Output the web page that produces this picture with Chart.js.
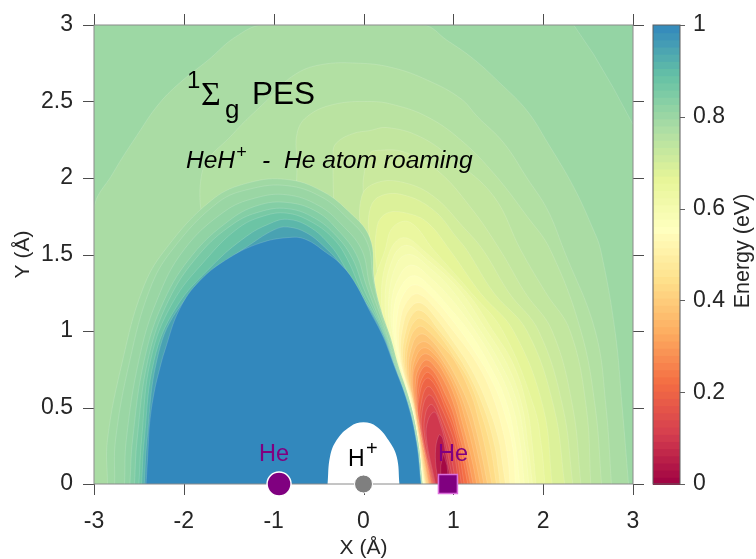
<!DOCTYPE html>
<html>
<head>
<meta charset="utf-8">
<style>
  html, body { margin: 0; padding: 0; background: #fff; }
  canvas { position: absolute; top: 0; }
</style>
<script src="https://cdn.jsdelivr.net/npm/chart.js@4"></script>
</head>
<body>
<canvas id="pes" width="650" height="559" style="left:0"></canvas>
<canvas id="bar" width="106" height="559" style="left:650px"></canvas>
<script>
const xTicks = [-3, -2, -1, 0, 1, 2, 3];
const yTicks = [0, 0.5, 1, 1.5, 2, 2.5, 3];
const barTicks = [0, 0.2, 0.4, 0.6, 0.8, 1];

// Spectral map
const mapStops = ['#9e0142', '#d53e4f', '#f46d43', '#fdae61', '#fee08b', '#ffffbf', '#e6f598', '#abdda4', '#66c2a5', '#3288bd'];
const barSteps = 64;

// energy contours, [X, Y] in angstrom
const plotBox = [[-3, 0], [-3, 3], [3, 3], [3, 0]];
const corner815 = [[2.34, 3], [2.56, 2.81], [2.78, 2.59], [3, 2.35], [3, 3]];
const c78 = [[-3, 0], [-3, 1.79], [-2.79, 2.03], [-2.52, 2.28], [-2.27, 2.49], [-2.01, 2.64], [-1.73, 2.77], [-1.43, 2.92], [-1.12, 3], [.66, 3], [.93, 2.9], [1.22, 2.78], [1.52, 2.62], [1.82, 2.44], [2.05, 2.23], [2.34, 1.94], [2.56, 1.66], [2.64, 1.53], [2.8, 1], [2.88, .5], [2.95, 0]];
const c76 = [[-1, 0], [-1.7, 1.5], [-1.8, 2.03], [-1.45, 2.29], [-1.07, 2.51], [-.78, 2.67], [-.48, 2.74], [-.04, 2.75], [.33, 2.72], [.71, 2.64], [1.08, 2.52], [1.27, 2.4], [1.56, 2.23], [1.82, 2], [2.05, 1.79], [2.23, 1.53], [2.58, 1], [2.7, .5], [2.76, 0]];
const c74 = [[-.3, 0], [-.74, 1.6], [-.74, 2.1], [-.74, 2.29], [-.63, 2.4], [-.34, 2.48], [.07, 2.5], [.33, 2.48], [.71, 2.4], [1.08, 2.25], [1.45, 2.03], [1.82, 1.75], [2.08, 1.53], [2.42, 1], [2.58, .5], [2.65, 0]];
const c72 = [[0, 0], [-.3, 1.6], [-.34, 2.16], [-.3, 2.23], [-.12, 2.29], [.07, 2.31], [.26, 2.33], [.63, 2.27], [1, 2.12], [1.45, 1.88], [1.75, 1.53], [2.03, 1.25], [2.3, 1], [2.48, .5], [2.53, 0]];
const c70 = [[.2, 0], [0, 1.6], [0, 1.87], [0, 2], [.07, 2.16], [.15, 2.18], [.45, 2.17], [.82, 2.05], [1.19, 1.81], [1.52, 1.53], [1.8, 1.25], [2.1, 1], [2.33, .5], [2.42, 0]];
const c68 = [[.3, 0], [-.02, 1.6], [-.02, 1.88], [.15, 1.97], [.45, 1.97], [.78, 1.88], [1.11, 1.68], [1.33, 1.53], [1.62, 1.25], [1.95, 1], [2.22, .5], [2.33, 0]];
const c66 = [[.4, 0], [.07, 1.6], [.07, 1.79], [.18, 1.88], [.44, 1.89], [.78, 1.79], [1.04, 1.61], [1.15, 1.53], [1.45, 1.25], [1.82, 1], [2.12, .5], [2.24, 0]];
const c64 = [[.5, 0], [.15, 1.4], [.15, 1.68], [.26, 1.77], [.48, 1.77], [.71, 1.71], [.96, 1.53], [1.3, 1.25], [1.67, 1], [2, .5], [2.1, 0]];
const c62 = [[.6, 0], [.45, .5], [.18, 1], [.1, 1.25], [.24, 1.53], [.33, 1.68], [.52, 1.71], [.78, 1.53], [1.2, 1.25], [1.55, 1], [1.9, .5], [1.98, .25], [2.02, 0]];
const c60 = [[.66, 0], [.52, .5], [.3, .9], [.2, 1.2], [.28, 1.5], [.44, 1.61], [.68, 1.52], [1.15, 1.25], [1.42, 1.02], [1.67, .78], [1.82, .5], [1.88, .25], [1.92, 0]];
const c58 = [[.665, 0], [.525, .5], [.32, .9], [.24, 1.2], [.33, 1.48], [.48, 1.56], [.7, 1.47], [1.05, 1.28], [1.34, 1.03], [1.6, .78], [1.76, .52], [1.83, .25], [1.88, 0]];
const c57 = [[.67, 0], [.53, .5], [.33, .9], [.28, 1.2], [.38, 1.45], [.52, 1.5], [.72, 1.42], [.98, 1.27], [1.28, 1.02], [1.53, .78], [1.7, .55], [1.79, .28], [1.84, 0]];
const c55 = [[.67, 0], [.535, .5], [.35, .9], [.31, 1.18], [.42, 1.38], [.55, 1.43], [.74, 1.35], [.96, 1.22], [1.22, 1.02], [1.47, .78], [1.64, .55], [1.74, .28], [1.79, 0]];
const c54 = [[.67, 0], [.54, .5], [.36, .9], [.34, 1.15], [.45, 1.32], [.58, 1.36], [.76, 1.28], [.93, 1.17], [1.17, 1], [1.4, .78], [1.58, .55], [1.68, .3], [1.74, 0]];
const c52 = [[.675, 0], [.545, .5], [.38, .88], [.38, 1.12], [.48, 1.27], [.6, 1.3], [.77, 1.22], [.95, 1.1], [1.2, .9], [1.45, .65], [1.6, .4], [1.67, .2], [1.69, 0]];
const c50 = [[.68, 0], [.55, .5], [.4, .85], [.42, 1.1], [.52, 1.22], [.62, 1.24], [.78, 1.16], [1, 1], [1.25, .8], [1.42, .6], [1.55, .35], [1.61, .15], [1.63, 0]];
const c47 = [[.685, 0], [.555, .5], [.42, .82], [.45, 1.06], [.55, 1.17], [.65, 1.18], [.8, 1.09], [1, .93], [1.2, .75], [1.38, .52], [1.5, .3], [1.55, .12], [1.58, 0]];
const c45 = [[.69, 0], [.56, .5], [.44, .8], [.48, 1.02], [.58, 1.13], [.68, 1.12], [.82, 1.02], [.98, .9], [1.17, .72], [1.35, .48], [1.46, .25], [1.5, .1], [1.52, 0]];
const c42 = [[.695, 0], [.565, .5], [.46, .78], [.5, .98], [.6, 1.08], [.7, 1.06], [.86, .96], [1, .84], [1.17, .68], [1.3, .48], [1.41, .25], [1.48, 0]];
const c40 = [[.7, 0], [.57, .5], [.48, .75], [.52, .95], [.62, 1.03], [.72, 1], [.88, .9], [1.02, .8], [1.2, .58], [1.28, .42], [1.36, .22], [1.43, 0]];
const c37 = [[.71, 0], [.57, .5], [.5, .73], [.55, .92], [.64, .98], [.74, .95], [.9, .83], [1.03, .7], [1.17, .52], [1.25, .36], [1.32, .18], [1.38, 0]];
const c35 = [[.72, 0], [.57, .5], [.52, .72], [.57, .88], [.66, .93], [.76, .9], [.91, .78], [1.04, .64], [1.15, .47], [1.22, .33], [1.29, .15], [1.34, 0]];
const c32 = [[.725, 0], [.575, .5], [.54, .71], [.59, .84], [.67, .89], [.77, .86], [.91, .75], [1.05, .58], [1.13, .43], [1.19, .3], [1.26, .12], [1.3, 0]];
const c30 = [[.73, 0], [.58, .5], [.55, .7], [.6, .8], [.68, .85], [.78, .82], [.9, .72], [1.03, .55], [1.1, .4], [1.16, .27], [1.22, .12], [1.26, 0]];
const c27 = [[.74, 0], [.59, .5], [.58, .68], [.63, .77], [.7, .81], [.79, .77], [.9, .67], [1, .53], [1.08, .37], [1.14, .23], [1.22, 0]];
const c25 = [[.75, 0], [.6, .5], [.6, .66], [.65, .75], [.71, .77], [.8, .72], [.9, .6], [.99, .48], [1.06, .33], [1.12, .2], [1.19, 0]];
const c22 = [[.755, 0], [.605, .47], [.62, .63], [.67, .71], [.72, .73], [.81, .67], [.9, .55], [.98, .44], [1.05, .3], [1.1, .18], [1.16, 0]];
const c20 = [[.76, 0], [.61, .45], [.63, .6], [.68, .68], [.73, .69], [.82, .62], [.92, .48], [1, .36], [1.06, .22], [1.12, 0]];
const c17 = [[.77, 0], [.63, .4], [.65, .55], [.7, .63], [.75, .63], [.85, .52], [.95, .38], [1.02, .25], [1.09, 0]];
const c15 = [[.78, 0], [.65, .35], [.66, .5], [.72, .58], [.78, .56], [.88, .42], [.96, .3], [1.01, .2], [1.06, 0]];
const c12 = [[.79, 0], [.68, .32], [.69, .46], [.75, .52], [.81, .48], [.9, .34], [.96, .22], [1.03, 0]];
const c10 = [[.8, 0], [.7, .3], [.72, .42], [.79, .47], [.85, .4], [.92, .25], [1, 0]];
const c05 = [[.83, 0], [.8, .2], [.84, .32], [.88, .3], [.92, .18], [.98, 0]];
const c02 = [[.86, 0], [.86, .12], [.89, .2], [.93, .12], [.95, 0]];
// rising side, round the blue dome
const c79 = [[-2.85, 0], [-2.85, .29], [-2.68, .81], [-2.46, 1.27], [-2.21, 1.53], [-1.68, 1.86], [-1.27, 1.97], [-.85, 1.99], [-.48, 1.92], [-.18, 1.79], [.07, 1.61], [.12, 1.33], [.2, 1.13], [.3, .96], [.38, .79], [.52, .53], [.61, .27], [.655, 0]];
const c80 = [[-2.77, 0], [-2.76, .29], [-2.6, .81], [-2.38, 1.27], [-2.13, 1.53], [-1.62, 1.84], [-1.25, 1.93], [-.85, 1.95], [-.48, 1.88], [-.2, 1.75], [.04, 1.58], [.11, 1.33], [.19, 1.13], [.29, .96], [.37, .79], [.52, .53], [.61, .27], [.655, 0]];
const c82 = [[-2.66, 0], [-2.64, .29], [-2.5, .81], [-2.3, 1.2], [-2, 1.53], [-1.55, 1.78], [-1.2, 1.87], [-.85, 1.89], [-.5, 1.82], [-.25, 1.7], [-.02, 1.53], [.07, 1.3], [.17, 1.13], [.27, .96], [.36, .79], [.51, .53], [.6, .27], [.65, 0]];
const c84 = [[-2.6, 0], [-2.57, .29], [-2.44, .81], [-2.22, 1.2], [-1.9, 1.5], [-1.5, 1.72], [-1.18, 1.82], [-.85, 1.84], [-.52, 1.78], [-.27, 1.65], [-.08, 1.5], [.03, 1.3], [.14, 1.13], [.26, .96], [.35, .79], [.505, .53], [.6, .27], [.645, 0]];
const c86 = [[-2.55, 0], [-2.52, .29], [-2.4, .81], [-2.17, 1.2], [-1.83, 1.5], [-1.45, 1.7], [-1.15, 1.78], [-.85, 1.8], [-.55, 1.74], [-.3, 1.62], [-.12, 1.47], [0, 1.28], [.12, 1.13], [.25, .96], [.345, .79], [.5, .53], [.595, .27], [.645, 0]];
const c88 = [[-2.5, 0], [-2.47, .29], [-2.37, .81], [-2.13, 1.18], [-1.75, 1.47], [-1.4, 1.67], [-1.12, 1.75], [-.85, 1.77], [-.57, 1.71], [-.33, 1.6], [-.18, 1.47], [-.03, 1.27], [.1, 1.13], [.24, .96], [.34, .79], [.495, .53], [.595, .27], [.64, 0]];
const c91 = [[-2.47, 0], [-2.44, .29], [-2.33, .81], [-2.09, 1.15], [-1.68, 1.43], [-1.3, 1.62], [-1.05, 1.7], [-.85, 1.73], [-.6, 1.68], [-.37, 1.56], [-.23, 1.44], [-.07, 1.26], [.09, 1.13], [.235, .96], [.335, .79], [.493, .53], [.592, .27], [.64, 0]];
const c95 = [[-2.44, 0], [-2.41, .29], [-2.3, .81], [-2.08, 1.13], [-1.6, 1.42], [-1.25, 1.57], [-1, 1.66], [-.85, 1.68], [-.63, 1.64], [-.4, 1.53], [-.26, 1.44], [-.09, 1.3], [.08, 1.13], [.225, .96], [.333, .79], [.491, .53], [.591, .27], [.64, 0]];
const c100 = [[-2.42, 0], [-2.4, .2], [-2.38, .4], [-2.33, .6], [-2.27, .75], [-2.21, .875], [-2.05, 1.14], [-1.82, 1.33], [-1.49, 1.48], [-1.15, 1.575], [-.85, 1.61], [-.65, 1.6], [-.41, 1.51], [-.26, 1.44], [-.11, 1.33], [.07, 1.13], [.22, .96], [.33, .79], [.49, .53], [.59, .27], [.64, 0]];
const hole = [[-.4, 0], [-.373, .178], [-.299, .288], [-.15, .375], [0, .403], [.147, .375], [.277, .288], [.37, .178], [.4, 0]];

// painted in this order, later ones on top; first number is the energy of the filled region
const contourOrder = [
  [.8, plotBox], [.815, corner815], [.78, c78], [.765, c76], [.75, c74], [.735, c72], [.72, c70], [.705, c68], [.685, c66], [.665, c64],
  [.645, c62], [.62, c60], [.605, c58], [.59, c57], [.575, c55], [.56, c54], [.54, c52], [.52, c50], [.49, c47], [.46, c45], [.435, c42], [.41, c40], [.385, c37], [.36, c35], [.335, c32], [.31, c30], [.28, c27], [.25, c25], [.225, c22], [.2, c20], [.175, c17], [.15, c15], [.125, c12], [.1, c10], [.05, c05], [.015, c02],
  [.795, c79], [.805, c80], [.82, c82], [.84, c84], [.86, c86], [.88, c88], [.91, c91], [.95, c95], [1, c100]
];

const heCircle = [[-.94, 0]];
const hCircle = [[0, 0]];
const heSquare = [[.94, 0]];

const sans = '"Liberation Sans", Arial, sans-serif';
const inkColor = '#262626';

function hexToRgb(h) {
  return [1, 3, 5].map(i => parseInt(h.substr(i, 2), 16));
}

function mapColor(v) {
  const p = Math.min(Math.max(v, 0), 1) * (mapStops.length - 1);
  const i = Math.min(Math.floor(p), mapStops.length - 2);
  const a = hexToRgb(mapStops[i]);
  const b = hexToRgb(mapStops[i + 1]);
  const c = a.map((n, k) => Math.round(n + (b[k] - n) * (p - i)));
  return `rgb(${c[0]},${c[1]},${c[2]})`;
}

const toPoints = pairs => pairs.map(p => ({x: p[0], y: p[1]}));

function fieldDataset(pairs, color, paint, line) {
  return {
    data: toPoints(pairs),
    showLine: true,
    fill: 'shape',
    backgroundColor: color,
    borderColor: line,
    borderWidth: line === 'transparent' ? 0 : 0.7,
    pointRadius: 0,
    tension: pairs.length > 5 ? 0.4 : 0,
    order: -paint
  };
}

function markerDataset(pairs, style, radius, fillColor, edge, edgeWidth, paint) {
  return {
    data: toPoints(pairs),
    showLine: false,
    pointStyle: style,
    pointRadius: radius,
    backgroundColor: fillColor,
    borderColor: edge,
    pointBorderWidth: edgeWidth,
    clip: false,
    order: -paint
  };
}

const datasets = contourOrder.map((c, i) =>
  fieldDataset(c[1], mapColor(c[0]), i, i === 0 ? 'transparent' : 'rgba(255,255,255,0.2)'));
const holeIndex = datasets.length;
datasets.push(fieldDataset(hole, '#ffffff', holeIndex, 'transparent'));
datasets.push(markerDataset(heCircle, 'circle', 12, '#800080', '#ffffff', 1.5, holeIndex + 1));
datasets.push(markerDataset(hCircle, 'circle', 9, '#7f7f7f', '#ffffff', 1, holeIndex + 2));
datasets.push(markerDataset(heSquare, 'rect', 13.4, '#800080', '#dc6fdc', 1.5, holeIndex + 3));

function drawText(ctx, text, x, y, font, color) {
  ctx.font = font;
  ctx.fillStyle = color;
  ctx.fillText(text, x, y);
}

function noScalePadding(s) {
  s.paddingLeft = s.paddingRight = s.paddingTop = s.paddingBottom = 0;
}

const framePlugin = {
  id: 'frame',
  beforeDatasetsDraw(chart) {
    const {ctx, chartArea: a, scales: {x, y}} = chart;
    ctx.save();
    ctx.strokeStyle = '#4d4d4d';
    ctx.lineWidth = 1;
    ctx.beginPath();
    xTicks.forEach(v => {
      const p = Math.round(x.getPixelForValue(v)) + 0.5;
      ctx.moveTo(p, a.top - 11); ctx.lineTo(p, a.top);
      ctx.moveTo(p, a.bottom); ctx.lineTo(p, a.bottom + 11);
    });
    yTicks.forEach(v => {
      const p = Math.round(y.getPixelForValue(v)) + 0.5;
      ctx.moveTo(a.left - 11, p); ctx.lineTo(a.left, p);
      ctx.moveTo(a.right, p); ctx.lineTo(a.right + 11, p);
    });
    ctx.stroke();
    ctx.restore();
  },
  afterDatasetDraw(chart, args) {
    if (args.index !== holeIndex) return;
    const {ctx, chartArea: a} = chart;
    ctx.save();
    ctx.strokeStyle = '#8a8a8a';
    ctx.lineWidth = 1;
    ctx.strokeRect(a.left, a.top, a.right - a.left, a.bottom - a.top);
    ctx.restore();
  },
  afterDatasetsDraw(chart) {
    const {ctx} = chart;
    ctx.save();
    ctx.textAlign = 'left';
    ctx.textBaseline = 'alphabetic';
    drawText(ctx, '1', 187, 88, `24px ${sans}`, '#000');
    drawText(ctx, 'Σ', 201, 105, '34px "Liberation Serif", serif', '#000');
    drawText(ctx, 'g', 225, 118, `26px ${sans}`, '#000');
    drawText(ctx, 'PES', 252, 104, `31.5px ${sans}`, '#000');
    drawText(ctx, 'HeH', 186, 168, `italic 24.5px ${sans}`, '#000');
    drawText(ctx, '+', 236, 158, `italic 18px ${sans}`, '#000');
    drawText(ctx, '-', 262, 168, `italic 24.5px ${sans}`, '#000');
    drawText(ctx, 'He atom roaming', 284, 168, `italic 24.6px ${sans}`, '#000');
    drawText(ctx, 'He', 259, 461, `23.5px ${sans}`, '#800080');
    drawText(ctx, 'He', 438, 461, `23.5px ${sans}`, '#800080');
    drawText(ctx, 'H', 348, 466, `23px ${sans}`, '#000');
    drawText(ctx, '+', 366, 455, `20px ${sans}`, '#000');
    ctx.restore();
  }
};

const barPlugin = {
  id: 'colourBar',
  beforeDatasetsDraw(chart) {
    const {ctx, chartArea: a, scales: {y}} = chart;
    ctx.save();
    for (let i = 0; i < barSteps; i++) {
      const top = y.getPixelForValue((i + 1) / barSteps);
      const bottom = y.getPixelForValue(i / barSteps);
      ctx.fillStyle = mapColor((i + 0.5) / barSteps);
      ctx.fillRect(a.left, top, a.right - a.left, bottom - top + 1);
    }
    ctx.strokeStyle = '#5f5f5f';
    ctx.lineWidth = 1;
    ctx.strokeRect(a.left, a.top, a.right - a.left, a.bottom - a.top);
    ctx.beginPath();
    barTicks.forEach(v => {
      const p = Math.round(y.getPixelForValue(v)) + 0.5;
      ctx.moveTo(a.right, p); ctx.lineTo(a.right + 5, p);
    });
    ctx.stroke();
    ctx.translate(93, 251);
    ctx.rotate(-Math.PI / 2);
    ctx.textAlign = 'center';
    ctx.textBaseline = 'middle';
    drawText(ctx, 'Energy (eV)', 0, 0, `21.5px ${sans}`, inkColor);
    ctx.restore();
  }
};

new Chart(document.getElementById('pes'), {
  type: 'scatter',
  data: {datasets: datasets},
  options: {
    responsive: false,
    animation: false,
    events: [],
    layout: {padding: {top: 25, right: 17}},
    plugins: {legend: {display: false}, tooltip: {enabled: false}},
    scales: {
      x: {
        type: 'linear', min: -3, max: 3,
        grid: {display: false}, border: {display: false},
        afterBuildTicks: s => { s.ticks = xTicks.map(v => ({value: v})); },
        afterFit: s => { s.height = 75; noScalePadding(s); },
        ticks: {color: inkColor, font: {family: sans, size: 23}, padding: 16, maxRotation: 0, autoSkip: false, callback: v => String(v)},
        title: {display: true, text: 'X (Å)', color: inkColor, font: {family: sans, size: 21, lineHeight: 1}, padding: {top: 2, bottom: 0}}
      },
      y: {
        type: 'linear', min: 0, max: 3,
        grid: {display: false}, border: {display: false},
        afterBuildTicks: s => { s.ticks = yTicks.map(v => ({value: v})); },
        afterFit: s => { s.width = 94; noScalePadding(s); },
        ticks: {color: inkColor, font: {family: sans, size: 23}, padding: 13, autoSkip: false, callback: v => String(v)},
        title: {display: true, text: 'Y (Å)', color: inkColor, font: {family: sans, size: 21, lineHeight: 1}, padding: {top: 13, bottom: 0}}
      }
    }
  },
  plugins: [framePlugin]
});

new Chart(document.getElementById('bar'), {
  type: 'scatter',
  data: {datasets: [{data: []}]},
  options: {
    responsive: false,
    animation: false,
    events: [],
    layout: {padding: {top: 25, left: 3, bottom: 75}},
    plugins: {legend: {display: false}, tooltip: {enabled: false}},
    scales: {
      x: {display: false},
      y: {
        type: 'linear', position: 'right', min: 0, max: 1,
        grid: {display: false}, border: {display: false},
        afterBuildTicks: s => { s.ticks = barTicks.map(v => ({value: v})); },
        afterFit: s => { s.width = 76; noScalePadding(s); },
        ticks: {color: inkColor, font: {family: sans, size: 23}, padding: 5, autoSkip: false, callback: v => String(v)}
      }
    }
  },
  plugins: [barPlugin]
});
</script>
</body>
</html>
